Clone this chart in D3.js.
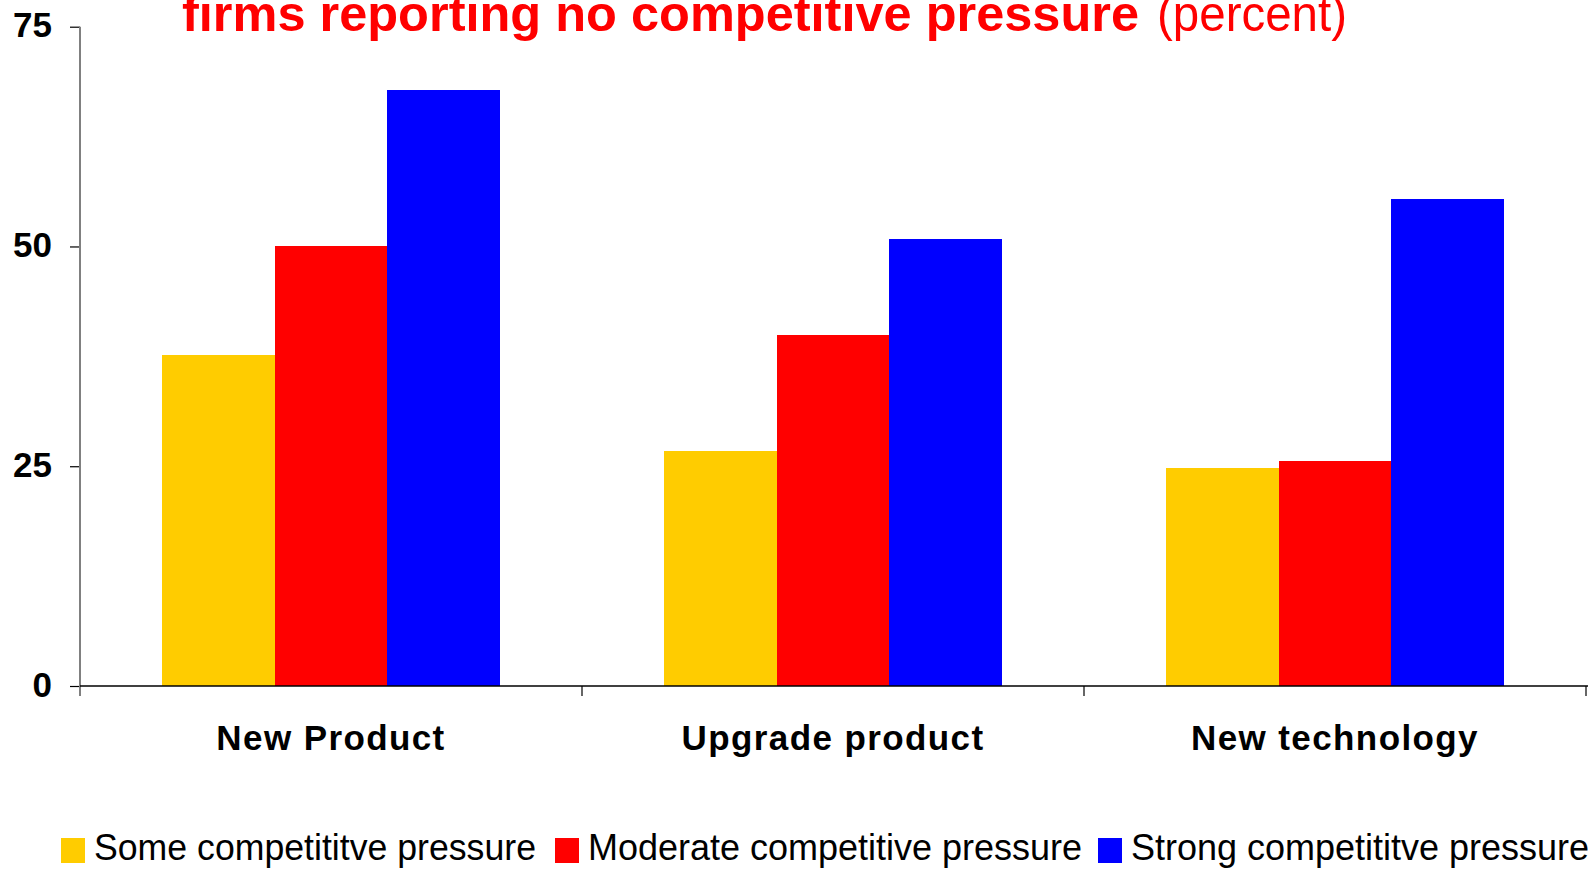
<!DOCTYPE html>
<html>
<head>
<meta charset="utf-8">
<script src="https://cdn.jsdelivr.net/npm/d3@7"></script>
<style>
  html, body { margin: 0; padding: 0; background: #fff; }
  svg { display: block; font-family: "Liberation Sans", Arial, sans-serif; }
</style>
</head>
<body>
<svg id="chart" width="1588" height="870"></svg>
<script>
const categories = ["New Product", "Upgrade product", "New technology"];
const seriesNames = ["Some competititve pressure", "Moderate competitive pressure", "Strong competititve pressure"];
const someValues = [37.6, 26.7, 24.8];
const moderateValues = [50.0, 39.9, 25.6];
const strongValues = [67.8, 50.8, 55.4];
const yTicks = [0, 25, 50, 75];
const colors = ["#FFCC00", "#FF0000", "#0000FF"];

(function () {
const seriesValues = [someValues, moderateValues, strongValues];
const data = categories.map((c, i) => ({
  category: c,
  values: seriesNames.map((s, j) => ({ series: s, value: seriesValues[j][i] }))
}));

const svg = d3.select("#chart");
const mLeft = 80, mRight = 1586, mTop = 26.7, mBottom = 686;

const x0 = d3.scaleBand().domain(categories).range([mLeft, mRight]).padding(0);
const x1 = d3.scaleBand().domain(seriesNames).range([0, x0.bandwidth()])
  .paddingInner(0).paddingOuter(0.727);
const y = d3.scaleLinear().domain([0, 75]).range([mBottom, mTop]);
const color = d3.scaleOrdinal().domain(seriesNames).range(colors);

// Title (clipped at the top edge, as in the original)
svg.append("text")
  .attr("x", 182).attr("y", 31)
  .attr("fill", "#FF0000")
  .attr("font-weight", "bold")
  .attr("font-size", 50)
  .attr("textLength", 957).attr("lengthAdjust", "spacingAndGlyphs")
  .text("firms reporting no competitive pressure");
svg.append("text")
  .attr("x", 1157).attr("y", 31)
  .attr("fill", "#FF0000")
  .attr("font-size", 50)
  .attr("textLength", 190).attr("lengthAdjust", "spacingAndGlyphs")
  .text("(percent)");

// Bars
const groups = svg.append("g").selectAll("g")
  .data(data).join("g")
  .attr("transform", d => `translate(${x0(d.category)},0)`);
groups.selectAll("rect")
  .data(d => d.values).join("rect")
  .attr("x", d => x1(d.series))
  .attr("width", x1.bandwidth())
  .attr("y", d => y(d.value))
  .attr("height", d => y(0) - y(d.value))
  .attr("fill", d => color(d.series))
  .attr("shape-rendering", "crispEdges");

// Y axis
const yAxis = svg.append("g")
  .attr("transform", `translate(${mLeft},0)`)
  .call(d3.axisLeft(y).tickValues(yTicks).tickSize(10).tickPadding(18).tickFormat(d3.format("d")));
yAxis.select(".domain").remove();
yAxis.selectAll(".tick line").attr("stroke", "#000").attr("stroke-width", 1.2);
yAxis.selectAll(".tick text")
  .attr("font-family", "'Liberation Sans', Arial, sans-serif")
  .attr("font-size", 35).attr("font-weight", "bold").attr("fill", "#000")
  .attr("dy", "0.29em");
svg.append("line")
  .attr("x1", mLeft).attr("x2", mLeft)
  .attr("y1", mTop).attr("y2", mBottom + 10)
  .attr("stroke", "#808080").attr("stroke-width", 2);

// X axis
const xAxis = svg.append("g")
  .attr("transform", `translate(0,${mBottom})`)
  .call(d3.axisBottom(x0).tickSize(0).tickPadding(64));
xAxis.select(".domain").remove();
xAxis.selectAll(".tick text")
  .attr("font-family", "'Liberation Sans', Arial, sans-serif")
  .attr("font-size", 35).attr("font-weight", "bold").attr("fill", "#000")
  .attr("letter-spacing", "1.4px")
  .attr("dy", 0);
svg.append("line")
  .attr("x1", mLeft).attr("x2", 1588)
  .attr("y1", mBottom).attr("y2", mBottom)
  .attr("stroke", "#000").attr("stroke-width", 1.5);
const boundaries = categories.slice(1).map(c => x0(c)).concat([x0(categories[categories.length - 1]) + x0.bandwidth()]);
svg.append("g").selectAll("line")
  .data(boundaries).join("line")
  .attr("x1", d => d).attr("x2", d => d)
  .attr("y1", mBottom).attr("y2", mBottom + 10)
  .attr("stroke", "#000").attr("stroke-width", 1.2);

// Legend
const legendX = [61, 555, 1098];
const legendW = [442, 494, 458];
const legend = svg.append("g").selectAll("g")
  .data(seriesNames).join("g")
  .attr("transform", (d, i) => `translate(${legendX[i]},0)`);
legend.append("rect")
  .attr("x", 0).attr("y", 838).attr("width", 24).attr("height", 25)
  .attr("fill", d => color(d));
legend.append("text")
  .attr("x", 33).attr("y", 860)
  .attr("font-size", 36).attr("fill", "#000")
  .attr("textLength", (d, i) => legendW[i]).attr("lengthAdjust", "spacingAndGlyphs")
  .text(d => d);
})();
</script>
</body>
</html>
